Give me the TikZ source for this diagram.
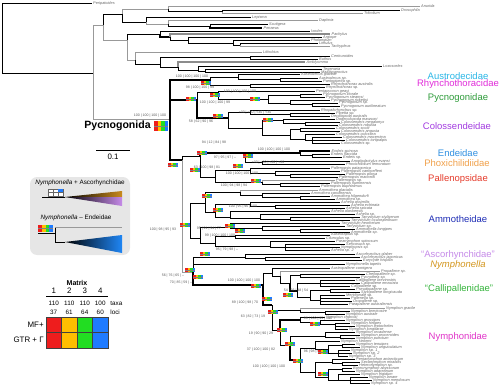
\documentclass[tikz,border=0pt]{standalone}
\usepackage{fontspec}
\setmainfont{Liberation Sans}
\usetikzlibrary{positioning}

\definecolor{qred}{HTML}{EE1D1D}
\definecolor{qorange}{HTML}{FFBE00}
\definecolor{qgreen}{HTML}{22DD22}
\definecolor{qblue}{HTML}{1F7BFF}
\definecolor{legendgray}{HTML}{E6E6E6}
\definecolor{legorange}{HTML}{C98A1E}
\definecolor{leglilac}{HTML}{C58AE8}
\definecolor{legblue}{HTML}{1F86F5}
\definecolor{cAustro}{HTML}{29B6E6}
\definecolor{cRhyncho}{HTML}{E02BD9}
\definecolor{cPycno}{HTML}{2E9B3A}
\definecolor{cColoss}{HTML}{A23BE0}
\definecolor{cEndeis}{HTML}{2F8FE0}
\definecolor{cPhoxi}{HTML}{F0A04A}
\definecolor{cPalleno}{HTML}{E53B2B}
\definecolor{cAmmo}{HTML}{1E2DB5}
\definecolor{cAscor}{HTML}{C58AE8}
\definecolor{cNella}{HTML}{D3961E}
\definecolor{cCalli}{HTML}{33B33A}
\definecolor{cNymph}{HTML}{E033C8}

\tikzset{
  br/.style={line width=0.4pt, black},
  gbr/.style={line width=0.4pt, black!40},
  tbr/.style={line width=0.9pt, black},
  tgbr/.style={line width=0.9pt, black!45},
  taxon/.style={anchor=west, inner sep=0.5pt,
    font=\fontsize{2.2}{2.4}\selectfont\itshape, text=black!60},
  bsup/.style={inner sep=0pt, font=\fontsize{2}{2.2}\selectfont, text=black!65},
  family/.style={font=\fontsize{5.4}{6}\selectfont},
  small/.style={inner sep=0pt, font=\fontsize{3.6}{4}\selectfont},
  quad/.pic={
    \fill[qred] (0,0) rectangle (2.5,4);
    \fill[qorange] (2.5,0) rectangle (5,4);
    \fill[qgreen] (5,0) rectangle (7.5,4);
    \fill[qblue] (7.5,0) rectangle (10,4);
    \draw[black!50, line width=0.15pt] (0,2) -- (10,2);
  }
}

\begin{document}
\begin{tikzpicture}[x=0.02cm, y=-0.02cm]
\useasboundingbox (0,0) rectangle (500,389);

% inner branches
\foreach \px/\py/\cx/\cy/\st in {
  2/38/93/73/br, 93/73/103/25/gbr, 93/73/170/119/gbr,
  103/25/122/14/br, 103/25/127/40/gbr,
  122/14/168/9/gbr, 122/14/146/22/br, 168/9/222/11.5/br,
  146/22/168/24/gbr, 168/24/210/26/br,
  127/40/160/34/br, 127/40/135/60/gbr, 160/34/170/37/tbr,
  170/37/188/40/br, 188/40/233/43/br, 233/43/240/45/br,
  135/60/160/64/br, 160/64/250/57.5/br, 160/64/178/67/br,
  178/67/198/70/br, 198/70/205/71/br,
  170/119/210/80/tbr, 170/119/197/100/tbr, 170/119/182/160/tbr,
  210/80/238/77/br, 210/80/250/85.5/br, 238/77/280/79.5/br,
  197/100/218/92/br, 197/100/228/118/tbr,
  218/92/268/99/br, 268/99/300/95.5/br, 268/99/290/103/br, 290/103/312/104.5/br,
  228/118/250/112/br, 228/118/262/128/br, 250/112/290/114.5/br,
  262/128/283/120.5/br, 262/128/290/135/br, 283/120.5/305/123.5/br,
  290/135/300/129.5/br, 290/135/305/139/br, 305/139/312/140/br,
  182/160/200/156/br, 182/160/190/226/gbr, 182/160/193/272/gbr,
  200/156/245/153/tbr, 200/156/215/177/br,
  245/153/300/153/tbr, 245/153/262/162.5/br, 300/153/312/155.5/br,
  215/177/250/170.5/br, 215/177/262/182/br, 250/170.5/275/173/br,
  275/173/290/175.5/br, 262/182/280/184.5/br,
  190/226/205/203/br, 190/226/200/238/br,
  205/203/240/192/br, 205/203/215/212/br,
  240/192/262/195/br, 262/195/300/197.5/br,
  215/212/250/204/br, 215/212/230/217/br,
  250/204/275/206.5/br, 230/217/260/218/br, 260/218/290/219/br,
  200/238/230/227/br, 200/238/215/243/br,
  230/227/262/228/br, 262/228/300/230.5/br,
  215/243/235/236.5/br, 215/243/270/246/br, 270/246/285/247/br,
  193/272/245/257/br, 193/272/263/285/tbr, 245/257/265/258.5/br,
  263/285/272/273/br, 263/285/272/305/tbr,
  272/273/280/276/br, 280/276/290/283/br, 290/283/300/275.5/br, 290/283/297/291/tbr,
  297/291/320/283/br, 297/291/310/297/br, 310/297/330/290.5/br, 310/297/320/300/br,
  272/305/300/310/br, 272/305/280/330/br, 300/310/325/312.5/br,
  280/330/300/320/tbr, 280/330/290/345/br,
  300/320/320/322/br, 320/322/335/324.5/br,
  290/345/325/336/br, 290/345/300/360/tbr, 325/336/340/337/br,
  300/360/315/348/br, 300/360/315/372/br,
  315/348/328/349/br, 328/349/342/345.5/br, 328/349/338/353/br,
  315/372/332/362/br, 315/372/328/377/br, 332/362/342/363.5/br,
  328/377/342/369.5/br, 328/377/338/380/br, 338/380/350/380/br} \draw[\st] (\px,\py) |- (\cx,\cy);

% tips
\foreach \px/\py/\tx/\ty/\st/\nm [count=\i] in {
  2/38/92/3/br/Peripatoides,
  168/9/420/6/gbr/Anurida, 222/11.5/400/10/br/Drosophila,
  222/11.5/363/13/gbr/Tribolium, 146/22/251/17/br/Lepisma,
  168/24/318/20/gbr/Daphnia, 210/26/268/24/br/Scutigera,
  210/26/262/28/tbr/Penaeus, 160/34/310/31/br/Ixodes,
  170/37/330/34/tgbr/Pachylus, 188/40/322/37/br/Argiope,
  233/43/310/40/br/Phalangium, 240/45/318/43/br/Limulus,
  240/45/330/46.5/gbr/Tachypleus, 135/60/262/52/gbr/Lithobius,
  250/57.5/330/56/br/Centruroides, 250/57.5/318/59/br/Buthus,
  178/67/305/62/tgbr/Amblyomma, 198/70/382/66/br/Loxosceles,
  205/71/322/69/br/Tegenaria, 205/71/320/72.5/br/Mastigoproctus,
  238/77/300/74.5/br/Austrodecus glaciale, 280/79.5/318/78/br/Austrodecus sp.,
  280/79.5/322/81/br/Pantopipetta sp.,
  250/85.5/330/84/br/Rhynchothorax australis, 250/85.5/325/87/br/Rhynchothorax sp.,
  218/92/315/91/br/Pentapycnon geayi, 300/95.5/322/94/br/Pycnogonum litorale,
  300/95.5/325/97/br/Pycnogonum stearnsi, 290/103/330/100/br/Pycnogonum rickettsi,
  312/104.5/338/103/br/Pycnogonum sp., 312/104.5/340/106/br/Pycnogonum aurilineatum,
  250/112/320/110/br/Rhopalorhynchus sp., 290/114.5/335/113/br/Pipetta sp.,
  290/114.5/330/116/br/Decolopoda australis, 283/120.5/335/119/br/Dodecolopoda mawsoni,
  305/123.5/340/122/br/Colossendeis megalonyx, 305/123.5/338/125/br/Colossendeis robusta,
  300/129.5/335/128/br/Colossendeis scotti, 300/129.5/340/131/br/Colossendeis angusta,
  305/139/335/134/br/Colossendeis colossea, 312/140/342/137/br/Colossendeis macerrima,
  312/140/345/140/br/Colossendeis tortipalpis, 312/140/340/143/br/Colossendeis sp.,
  300/153/330/151/tbr/Endeis spinosa, 312/155.5/330/154/br/Endeis flaccida,
  312/155.5/342/157/br/Endeis sp., 262/162.5/350/161/br/Anoplodactylus evansi,
  262/162.5/345/164/br/Phoxichilidium femoratum,
  250/170.5/330/168/br/Pallenopsis patagonica, 275/173/340/171/br/Pallenopsis vanhoeffeni,
  290/175.5/345/174/br/Pallenopsis pilosa, 290/175.5/338/177/br/Pallenopsis macneilli,
  262/182/335/180/gbr/Pallenopsis sp., 280/184.5/330/183/br/Pallenopsis fluminensis,
  280/184.5/320/186/br/Pallenopsis buphtalmus,
  240/192/318/190/gbr/Ammothea glacialis, 262/195/310/193/br/Ammothea carolinensis,
  300/197.5/330/196/br/Ammothea hilgendorfi, 300/197.5/335/199/br/Ammothea sp.,
  250/204/340/202/br/Achelia assimilis, 275/206.5/350/205/br/Achelia echinata,
  275/206.5/345/208/br/Achelia spicata, 230/217/330/211/br/Achelia alaskensis,
  260/218/355/214/br/Achelia sp., 290/219/360/217/br/Tanystylum styligerum,
  290/219/350/220/br/Tanystylum oculospinosum, 230/227/340/223/br/Tanystylum neorhetum,
  262/228/345/226/br/Tanystylum sp., 300/230.5/355/229/br/Ammothella longipes,
  300/230.5/350/232/br/Ammothella sp., 235/236.5/330/235/br/Austroraptus sp.,
  235/236.5/325/238/br/Cilunculus sp., 270/246/335/241/br/Paranymphon spinosum,
  285/247/345/244/br/Sericosura sp., 285/247/340/247/br/Nymphopsis sp.,
  285/247/330/250/br/Achelia sp. 2,
  245/257/355/254/br/Ascorhynchus glaber, 265/258.5/360/257/br/Ascorhynchus japonicus,
  265/258.5/362/260/br/Eurycyde hispida, 193/272/345/264/br/Nymphonella tapetis,
  272/273/330/268/br/Austropallene cornigera, 280/276/380/271/gbr/Propallene sp.,
  300/275.5/365/274/br/Cheilopallene sp., 300/275.5/360/277/br/Pycnothea sp.,
  320/283/355/280/br/Callipallene brevirostris, 320/283/360/283/br/Callipallene emaciata,
  320/283/350/286/br/Callipallene sp., 330/290.5/355/289/br/Pseudopallene sp.,
  330/290.5/360/292/br/Stylopallene longicauda, 320/300/345/295/br/Meridionale sp.,
  320/300/350/298/br/Pallenella sp., 320/300/352/301/br/Oropallene sp.,
  320/300/348/304/br/Parapallene australiensis,
  300/310/385/308/gbr/Nymphon gracile, 325/312.5/350/311/br/Nymphon brevirostre,
  325/312.5/345/314/br/Nymphon australe, 300/320/325/317/br/Nymphon charcoti,
  320/322/345/320/br/Nymphon grossipes, 335/324.5/350/323/br/Nymphon hirtipes,
  335/324.5/355/326/br/Nymphon leptocheles, 335/324.5/348/329/br/Nymphon longitarse,
  325/336/355/332/br/Nymphon orcadense, 340/337/360/335/br/Nymphon proceroides,
  340/337/355/338/br/Nymphon punctum, 315/348/340/341/br/Nymphon stroemi,
  342/345.5/355/344/br/Nymphon tenuipes, 342/345.5/360/347/br/Nymphon unguiculatum,
  338/353/350/350/br/Nymphon sp. 1, 338/353/352/353/br/Nymphon sp. 2,
  338/353/348/356/br/Nymphon sp. 3, 332/362/355/359/br/Pentanymphon antarcticum,
  342/363.5/360/362/br/Sexanymphon mirabilis, 342/363.5/358/365/br/Heteronymphon sp.,
  342/369.5/352/368/br/Boreonymphon abyssorum, 342/369.5/355/371/br/Nymphon adareanum,
  338/380/360/374/br/Nymphon frigidum, 350/380/368/377/br/Nymphon lanare,
  350/380/372/380/br/Nymphon mendosum, 350/380/370/383/br/Nymphon sp. 4} \draw[\st] (\px,\py) |- (\tx,\ty) node[taxon] (tip\i) {\nm};

% support values
\foreach \x/\y/\t [count=\i] in {
  150/116/100 | 100 | 100 | 100, 192/77/100 | 100 | 100 | 100,
  200/88/98 | 100 | 100 | 99, 215/103/100 | 100 | 100 | 99,
  240/92/100 | 100 | 100 | 100, 255/113/<30 | <30 | <30 | <30,
  201/122/58 | 62 | 90 | 96, 214/143/94 | 12 | 84 | 98,
  274/150/100 | 100 | 100 | 100, 225/158/97 | 95 | 97 | –,
  268/163/<30 | <30 | <30 | <30, 207/168/63 | 100 | 98 | 81,
  242/174/100 | 100 | 100 | 100, 234/186/100 | 94 | 98 | 94,
  243/207/100 | 95 | 96 | 100, 163/230/100 | 98 | 95 | 93,
  209/229/95 | 91 | 94 | 77, 220/236/99 | 100 | 100 | 100,
  227/250/95 | 79 | 98 | –, 173/276/56 | 76 | 65 | –,
  181/283/70 | 85 | 59 | –, 244/281/100 | 100 | 100 | 100,
  245/303/89 | 100 | 98 | 70, 253/317/63 | 82 | 73 | 19,
  261/334/19 | 90 | 90 | 29, 261/350/37 | 100 | 100 | 82,
  269/367/100 | 100 | 100 | 100, 296/291/54 | 56 | 48 | 54,
  318/319/98 | 100 | 95 | 100, 316/352/96 | 98 | 92 | 98} \node[bsup] (bs\i) at (\x,\y) {\t};

\foreach \x/\y in {
  201/81, 210/93, 186/97, 213/114, 250/97, 263/118, 168/163, 197/151,
  190/168, 243/154, 233/164, 251/179, 202/194, 213/208, 180/223, 225/224,
  235/229, 200/252, 185/268, 193/275, 251/284, 262/297, 283/293, 268/310,
  277/328, 285/342, 293/359, 310/322, 318/350, 318/372} \pic at (\x,\y) {quad};

% clade names
\node[family, text=cAustro] (austro) at (458,76) {Austrodecidae};
\node[family, text=cRhyncho] (rhyncho) at (458,84) {Rhynchothoracidae};
\node[family, text=cPycno] (pycno) at (458,98) {Pycnogonidae};
\node[family, text=cColoss] (coloss) at (457,126) {Colossendeidae};
\node[family, text=cEndeis] (endeis) at (458,153.5) {Endeidae};
\node[family, text=cPhoxi] (phoxi) at (457,163) {Phoxichilidiidae};
\node[family, text=cPalleno] (palleno) at (458,179) {Pallenopsidae};
\node[family, text=cAmmo] (ammo) at (458,219) {Ammotheidae};
\node[family, text=cAscor] (ascor) at (458,255) {“Ascorhynchidae”};
\node[family, text=cNella, font=\fontsize{5.4}{6}\selectfont\itshape] (nella) at (458,265) {Nymphonella};
\node[family, text=cCalli] (calli) at (459,289) {“Callipallenidae”};
\node[family, text=cNymph] (nymph) at (458,337) {Nymphonidae};

% Pycnogonida label and scale
\node[anchor=east, inner sep=0pt, font=\bfseries\fontsize{6}{7}\selectfont] (pycnogonida) at (151,126) {Pycnogonida};
\foreach \c [count=\k from 0] in {qred, qorange, qgreen, qblue}
  \fill[\c] (154+3.5*\k,121) rectangle (157.5+3.5*\k,131);
\draw[black!50, line width=0.15pt] (154,126) -- (168,126);
\draw[br] (96,150) -- (130,150);
\node[inner sep=0pt, font=\fontsize{4.5}{5}\selectfont] (scale) at (113,157) {0.1};

% legend box
\fill[legendgray, rounded corners=4pt] (30,177) rectangle (130,255);
\node[small] (leg_asc) at (80,183) {\textit{Nymphonella} + Ascorhynchidae};
\foreach \k in {0,1,2} {
  \draw[black!60, fill=white, line width=0.2pt] (48+5*\k,189) rectangle (53+5*\k,192.5);
  \draw[black!60, fill=white, line width=0.2pt] (48+5*\k,192.5) rectangle (53+5*\k,196);
}
\fill[qblue] (58.2,189.2) rectangle (62.8,192.3);
\draw[br] (42,197) -- (65,197);
\shade[left color=black, middle color=legorange, right color=legorange] (65,197) -- (122,191) -- (122,197) -- cycle;
\shade[left color=black, middle color=leglilac, right color=leglilac] (65,197) -- (122,197) -- (122,206) -- cycle;
\node[small] (leg_end) at (76,218) {\textit{Nymphonella} – Endeidae};
\foreach \c [count=\k from 0] in {qred, qorange, qgreen, qblue}
  \fill[\c] (38+3.75*\k,225) rectangle (41.75+3.75*\k,232);
\draw[black!50, line width=0.15pt] (38,228.5) -- (53,228.5);
\draw[br] (38,233) -- (55,233);
\draw[br] (55,227) -- (55,242) -- (65,242);
\draw[gbr] (55,227) -- (122,227);
\shade[left color=black, middle color=legblue, right color=legblue] (65,242) -- (122,235) -- (122,253) -- cycle;

% matrix table
\node[inner sep=0pt, font=\bfseries\fontsize{4}{5}\selectfont] (matrix) at (77,283) {Matrix};
\foreach \n/\a/\b [count=\k from 0] in {1/110/37, 2/110/61, 3/110/64, 4/100/60} {
  \node[inner sep=0pt, font=\fontsize{4.5}{5}\selectfont] (mnum\n) at (53.75+15.5*\k,291) {\n};
  \node[small] (mtaxa\n) at (53.75+15.5*\k,303) {\a};
  \node[small] (mloci\n) at (53.75+15.5*\k,312) {\b};
}
\draw[br] (46,296) -- (108,296);
\node[small, anchor=west] (taxa) at (110,303) {taxa};
\node[small, anchor=west] (loci) at (110,312) {loci};
\foreach \c [count=\k from 0] in {qred, qorange, qgreen, qblue} {
  \fill[\c] (46+15.5*\k,317) rectangle (61.5+15.5*\k,348);
}
\draw[black!75, line width=0.3pt] (46,317) rectangle (108,348);
\draw[black!75, line width=0.3pt] (46,332.5) -- (108,332.5);
\foreach \k in {1,2,3} \draw[black!75, line width=0.3pt] (46+15.5*\k,317) -- (46+15.5*\k,348);
\node[anchor=east, inner sep=0pt, font=\fontsize{4.5}{5}\selectfont] (mf) at (44,325) {MF+};
\node[anchor=east, inner sep=0pt, font=\fontsize{4.5}{5}\selectfont] (gtr) at (44,340) {GTR + Γ};

\end{tikzpicture}
\end{document}
